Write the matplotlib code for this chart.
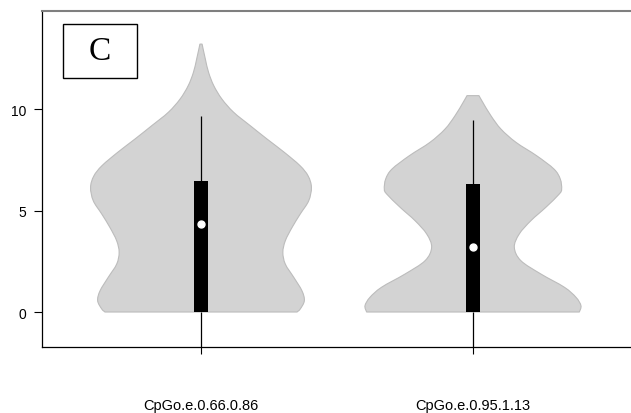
import numpy as np
import matplotlib
matplotlib.use("Agg")
import matplotlib.pyplot as plt
from matplotlib.patches import Rectangle, PathPatch
from matplotlib.path import Path

# violin outlines: (value, half-width in x units)
v1_y = [13.2, 12.46, 11.8, 11.15, 10.49, 9.84, 9.18, 8.52, 7.87, 7.21, 6.7, 6.14,
        5.48, 4.83, 4.17, 3.51, 2.94, 2.36, 1.71, 1.05, 0.56, 0.15, 0.0]
v1_w = [0.004, 0.016, 0.028, 0.047, 0.077, 0.120, 0.181, 0.243, 0.306, 0.364, 0.394, 0.406,
        0.396, 0.365, 0.335, 0.310, 0.301, 0.310, 0.341, 0.371, 0.380, 0.365, 0.353]

v2_y = [10.66, 10.33, 9.67, 9.01, 8.36, 7.7, 7.04, 6.55, 6.06, 5.81, 5.16, 4.5,
        3.84, 3.19, 2.53, 1.87, 1.22, 0.72, 0.31, 0.0]
v2_w = [0.022, 0.036, 0.066, 0.103, 0.158, 0.234, 0.298, 0.321, 0.326, 0.317, 0.268, 0.213,
        0.170, 0.152, 0.176, 0.250, 0.336, 0.379, 0.397, 0.391]

labels = ["CpGo.e.0.66.0.86", "CpGo.e.0.95.1.13"]
positions = [1, 2]
q1 = [0.0, 0.0]
q3 = [6.45, 6.3]
medians = [4.33, 3.2]
whisk_hi = [9.65, 9.46]

ylim = (-1.724, 14.83)


def smooth_side(pts):
    # catmull-rom through the points, as bezier pieces
    verts = []
    n = len(pts)
    for i in range(n - 1):
        p0 = pts[max(i - 1, 0)]
        p1 = pts[i]
        p2 = pts[i + 1]
        p3 = pts[min(i + 2, n - 1)]
        c1 = p1 + (p2 - p0) / 6.0
        c2 = p2 - (p3 - p1) / 6.0
        verts += [c1, c2, p2]
    return verts


def violin_path(pos, vy, vw):
    vy = np.array(vy)
    vw = np.array(vw)
    right = np.column_stack([pos + vw, vy])        # top -> bottom
    left = np.column_stack([pos - vw, vy])[::-1]   # bottom -> top
    verts = [right[0]]
    codes = [Path.MOVETO]
    seg = smooth_side(right)
    verts += seg
    codes += [Path.CURVE4] * len(seg)
    verts.append(left[0])
    codes.append(Path.LINETO)
    seg = smooth_side(left)
    verts += seg
    codes += [Path.CURVE4] * len(seg)
    verts.append(right[0])
    codes.append(Path.CLOSEPOLY)
    return Path(verts, codes)


fig = plt.figure(figsize=(6.31, 4.14), dpi=100)
ax = fig.add_axes([42 / 631, 66 / 414, 589 / 631, 336 / 414])

for pos, vy, vw in zip(positions, [v1_y, v2_y], [v1_w, v2_w]):
    ax.add_patch(PathPatch(violin_path(pos, vy, vw), facecolor="#d3d3d3",
                           edgecolor="#bcbcbc", linewidth=0.8, zorder=1))

for i, pos in enumerate(positions):
    ax.vlines(pos, q3[i], whisk_hi[i], color="black", linewidth=0.9, zorder=2)
    ax.vlines(pos, ylim[0], q1[i], color="black", linewidth=0.9, zorder=2)
    ax.bar(pos, q3[i] - q1[i], bottom=q1[i], width=0.055, color="black", zorder=3)
    ax.plot(pos, medians[i], "o", color="white", markersize=5, zorder=4)

ax.set_xlim(0.4154, 2.581)
ax.set_ylim(*ylim)

ax.set_yticks([0, 5, 10])
ax.set_yticklabels(["0", "5", "10"])
ax.set_xticks(positions)
ax.set_xticklabels(labels)
ax.tick_params(axis="y", length=5.8, width=0.8, pad=5.5, labelsize=10)
ax.tick_params(axis="x", length=5, width=0.8, pad=32, labelsize=10.5)
for lab in ax.get_xticklabels() + ax.get_yticklabels():
    lab.set_family("Liberation Sans")

ax.spines["right"].set_visible(False)
ax.spines["top"].set_color("#7f7f7f")
ax.spines["top"].set_linewidth(1.5)
ax.spines["left"].set_linewidth(0.9)
ax.spines["bottom"].set_linewidth(0.9)

# panel letter
ax.add_patch(Rectangle((0.0357, 0.8006), 0.1253, 0.1604, transform=ax.transAxes,
                       fill=False, edgecolor="black", linewidth=1.0, clip_on=False, zorder=5))
ax.text(0.0985, 0.881, "C", transform=ax.transAxes, ha="center", va="center",
        fontsize=24, family="Liberation Serif", zorder=6)

fig.savefig("out.png", dpi=100)
